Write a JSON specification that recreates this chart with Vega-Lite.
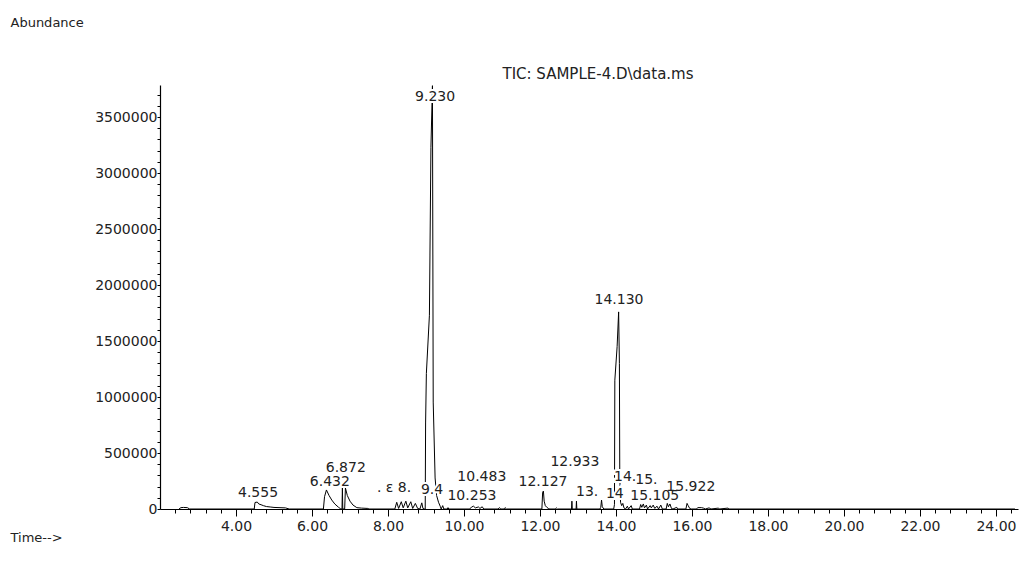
{
  "$schema": "https://vega.github.io/schema/vega-lite/v6.json",
  "width": 858,
  "height": 424,
  "autosize": {"type": "none"},
  "padding": {"left": 160, "top": 85, "right": 3, "bottom": 52},
  "background": "white",
  "title": {"text": "TIC: SAMPLE-4.D\\data.ms", "anchor": "middle", "dx": 9, "dy": 81, "offset": 0, "baseline": "bottom", "font": "DejaVu Sans", "fontSize": 15, "fontWeight": "normal", "color": "#222"},
  "config": {"view": {"stroke": null}, "font": "DejaVu Sans"},
  "datasets": {
    "tic": [
      {"t": 2.50, "a": 0}, {"t": 2.55, "a": 12000}, {"t": 2.62, "a": 14000}, {"t": 2.72, "a": 12000}, {"t": 2.78, "a": 0},
      {"t": 4.48, "a": 0}, {"t": 4.50, "a": 58000}, {"t": 4.56, "a": 62000}, {"t": 4.60, "a": 45000}, {"t": 4.66, "a": 38000},
      {"t": 4.72, "a": 30000}, {"t": 4.80, "a": 22000}, {"t": 4.90, "a": 18000}, {"t": 5.00, "a": 14000}, {"t": 5.30, "a": 10000}, {"t": 5.40, "a": 0},
      {"t": 6.30, "a": 0}, {"t": 6.33, "a": 110000}, {"t": 6.38, "a": 170000}, {"t": 6.45, "a": 120000}, {"t": 6.52, "a": 80000},
      {"t": 6.60, "a": 45000}, {"t": 6.70, "a": 15000}, {"t": 6.76, "a": 0}, {"t": 6.79, "a": 0}, {"t": 6.80, "a": 190000}, {"t": 6.81, "a": 0},
      {"t": 6.86, "a": 0}, {"t": 6.88, "a": 187000}, {"t": 6.93, "a": 120000}, {"t": 7.00, "a": 70000}, {"t": 7.08, "a": 35000},
      {"t": 7.18, "a": 12000}, {"t": 7.30, "a": 8000}, {"t": 7.47, "a": 5000}, {"t": 7.50, "a": 0},
      {"t": 8.18, "a": 0}, {"t": 8.23, "a": 60000}, {"t": 8.28, "a": 5000}, {"t": 8.35, "a": 65000}, {"t": 8.40, "a": 10000},
      {"t": 8.47, "a": 70000}, {"t": 8.52, "a": 10000}, {"t": 8.60, "a": 65000}, {"t": 8.65, "a": 5000}, {"t": 8.72, "a": 50000},
      {"t": 8.78, "a": 5000}, {"t": 8.84, "a": 0}, {"t": 8.89, "a": 55000}, {"t": 8.92, "a": 5000}, {"t": 8.96, "a": 0},
      {"t": 8.98, "a": 0}, {"t": 8.99, "a": 768000}, {"t": 9.01, "a": 1210000}, {"t": 9.09, "a": 1730000}, {"t": 9.13, "a": 3230000},
      {"t": 9.17, "a": 3780000}, {"t": 9.19, "a": 955000}, {"t": 9.24, "a": 277000}, {"t": 9.28, "a": 120000}, {"t": 9.33, "a": 60000},
      {"t": 9.38, "a": 20000}, {"t": 9.40, "a": 0}, {"t": 9.44, "a": 30000}, {"t": 9.47, "a": 0},
      {"t": 9.56, "a": 0}, {"t": 9.58, "a": 12000}, {"t": 9.60, "a": 0},
      {"t": 10.15, "a": 0}, {"t": 10.20, "a": 18000}, {"t": 10.25, "a": 25000}, {"t": 10.30, "a": 10000}, {"t": 10.38, "a": 18000},
      {"t": 10.42, "a": 5000}, {"t": 10.48, "a": 20000}, {"t": 10.52, "a": 0},
      {"t": 10.90, "a": 0}, {"t": 10.93, "a": 12000}, {"t": 10.97, "a": 0}, {"t": 11.05, "a": 0}, {"t": 11.08, "a": 12000}, {"t": 11.12, "a": 0},
      {"t": 12.05, "a": 0}, {"t": 12.07, "a": 150000}, {"t": 12.09, "a": 160000}, {"t": 12.11, "a": 70000}, {"t": 12.14, "a": 30000},
      {"t": 12.18, "a": 15000}, {"t": 12.22, "a": 5000}, {"t": 12.26, "a": 0},
      {"t": 12.40, "a": 0}, {"t": 12.43, "a": 10000}, {"t": 12.46, "a": 0},
      {"t": 12.83, "a": 0}, {"t": 12.84, "a": 70000}, {"t": 12.85, "a": 0}, {"t": 12.95, "a": 0}, {"t": 12.96, "a": 70000}, {"t": 12.97, "a": 0},
      {"t": 13.58, "a": 0}, {"t": 13.60, "a": 15000}, {"t": 13.62, "a": 80000}, {"t": 13.64, "a": 20000}, {"t": 13.68, "a": 0},
      {"t": 13.94, "a": 0}, {"t": 13.96, "a": 40000}, {"t": 13.97, "a": 1150000}, {"t": 14.03, "a": 1450000}, {"t": 14.07, "a": 1760000},
      {"t": 14.09, "a": 1300000}, {"t": 14.10, "a": 300000}, {"t": 14.12, "a": 60000}, {"t": 14.15, "a": 30000}, {"t": 14.18, "a": 50000},
      {"t": 14.21, "a": 10000}, {"t": 14.25, "a": 0}, {"t": 14.30, "a": 25000}, {"t": 14.33, "a": 0}, {"t": 14.40, "a": 30000}, {"t": 14.43, "a": 0},
      {"t": 14.62, "a": 0}, {"t": 14.65, "a": 40000}, {"t": 14.68, "a": 15000}, {"t": 14.72, "a": 45000}, {"t": 14.75, "a": 10000},
      {"t": 14.80, "a": 35000}, {"t": 14.83, "a": 0}, {"t": 14.90, "a": 30000}, {"t": 14.93, "a": 10000}, {"t": 14.98, "a": 35000},
      {"t": 15.02, "a": 5000}, {"t": 15.08, "a": 25000}, {"t": 15.12, "a": 0}, {"t": 15.18, "a": 35000}, {"t": 15.22, "a": 0},
      {"t": 15.32, "a": 0}, {"t": 15.35, "a": 50000}, {"t": 15.38, "a": 20000}, {"t": 15.42, "a": 45000}, {"t": 15.46, "a": 5000},
      {"t": 15.50, "a": 0}, {"t": 15.60, "a": 15000}, {"t": 15.62, "a": 0},
      {"t": 15.84, "a": 0}, {"t": 15.87, "a": 50000}, {"t": 15.90, "a": 30000}, {"t": 15.94, "a": 5000}, {"t": 15.98, "a": 0},
      {"t": 16.12, "a": 0}, {"t": 16.15, "a": 12000}, {"t": 16.25, "a": 12000}, {"t": 16.30, "a": 8000}, {"t": 16.35, "a": 0},
      {"t": 16.45, "a": 10000}, {"t": 16.50, "a": 0}, {"t": 16.70, "a": 8000}, {"t": 16.72, "a": 0}, {"t": 16.95, "a": 8000}, {"t": 16.97, "a": 0},
      {"t": 24.50, "a": 0}
    ],
    "labels": [
      {"label": "9.230", "t": 9.24, "a": 3679000},
      {"label": "14.130", "t": 14.08, "a": 1866000},
      {"label": "4.555", "t": 4.58, "a": 143000},
      {"label": "6.432", "t": 6.47, "a": 241000},
      {"label": "6.872", "t": 6.89, "a": 366000},
      {"label": ". ε 8.", "t": 8.16, "a": 187000},
      {"label": "9.4", "t": 9.16, "a": 170000},
      {"label": "10.483", "t": 10.47, "a": 286000},
      {"label": "10.253", "t": 10.21, "a": 116000},
      {"label": "12.127", "t": 12.08, "a": 241000},
      {"label": "12.933", "t": 12.92, "a": 420000},
      {"label": "13.", "t": 13.24, "a": 152000},
      {"label": "14.", "t": 14.24, "a": 290000},
      {"label": "15.", "t": 14.8, "a": 262000},
      {"label": "14", "t": 13.97, "a": 134000},
      {"label": "15.105", "t": 15.02, "a": 112000},
      {"label": "15.922", "t": 15.97, "a": 200000}
    ]
  },
  "encoding": {
    "x": {
      "field": "t", "type": "quantitative",
      "scale": {"domain": [2, 24.58], "nice": false, "zero": false},
      "axis": {
        "title": "Time-->", "titleAngle": 0, "titleAlign": "left", "titleBaseline": "middle", "titleX": -150, "titleY": 28,
        "titleFont": "DejaVu Sans", "titleFontSize": 13, "titleFontWeight": "normal", "titleColor": "#222",
        "values": [2.4, 2.8, 3.2, 3.6, 4, 4.4, 4.8, 5.2, 5.6, 6, 6.4, 6.8, 7.2, 7.6, 8, 8.4, 8.8, 9.2, 9.6, 10, 10.4, 10.8, 11.2, 11.6, 12, 12.4, 12.8, 13.2, 13.6, 14, 14.4, 14.8, 15.2, 15.6, 16, 16.4, 16.8, 17.2, 17.6, 18, 18.4, 18.8, 19.2, 19.6, 20, 20.4, 20.8, 21.2, 21.6, 22, 22.4, 22.8, 23.2, 23.6, 24, 24.4],
        "labelExpr": "abs(datum.value/2 - round(datum.value/2)) < 0.01 ? format(datum.value, '.2f') : ''",
        "labelOverlap": false, "labelFlush": false, "labelBound": false,
        "labelFont": "DejaVu Sans", "labelFontSize": 14, "labelColor": "#222", "labelPadding": 3,
        "tickSize": {"condition": {"test": "abs(datum.value/2 - round(datum.value/2)) < 0.01", "value": 7}, "value": 4},
        "tickColor": "black", "tickWidth": 1,
        "domainColor": "black", "domainWidth": 1.2, "grid": false
      }
    },
    "y": {
      "field": "a", "type": "quantitative",
      "scale": {"domain": [0, 3786000], "nice": false},
      "axis": {
        "title": "Abundance", "titleAngle": 0, "titleAlign": "left", "titleBaseline": "middle", "titleX": -150, "titleY": -63,
        "titleFont": "DejaVu Sans", "titleFontSize": 13, "titleFontWeight": "normal", "titleColor": "#222",
        "values": [0, 100000, 200000, 300000, 400000, 500000, 600000, 700000, 800000, 900000, 1000000, 1100000, 1200000, 1300000, 1400000, 1500000, 1600000, 1700000, 1800000, 1900000, 2000000, 2100000, 2200000, 2300000, 2400000, 2500000, 2600000, 2700000, 2800000, 2900000, 3000000, 3100000, 3200000, 3300000, 3400000, 3500000, 3600000, 3700000],
        "labelExpr": "datum.value % 500000 === 0 ? '' + datum.value : ''",
        "labelOverlap": false, "labelFlush": false, "labelBound": false,
        "labelFont": "DejaVu Sans", "labelFontSize": 14, "labelColor": "#222", "labelPadding": 0,
        "tickSize": 3, "tickColor": "black", "tickWidth": 1,
        "domainColor": "black", "domainWidth": 1.2, "grid": false
      }
    }
  },
  "layer": [
    {"data": {"name": "tic"}, "mark": {"type": "line", "color": "black", "strokeWidth": 1, "interpolate": "linear", "clip": false}},
    {"data": {"name": "labels"}, "mark": {"type": "text", "font": "DejaVu Sans", "fontSize": 14, "fill": "white", "stroke": "white", "strokeWidth": 4, "align": "center", "baseline": "middle"}, "encoding": {"text": {"field": "label"}}},
    {"data": {"name": "labels"}, "mark": {"type": "text", "font": "DejaVu Sans", "fontSize": 14, "fill": "#222", "align": "center", "baseline": "middle"}, "encoding": {"text": {"field": "label"}}}
  ]
}
